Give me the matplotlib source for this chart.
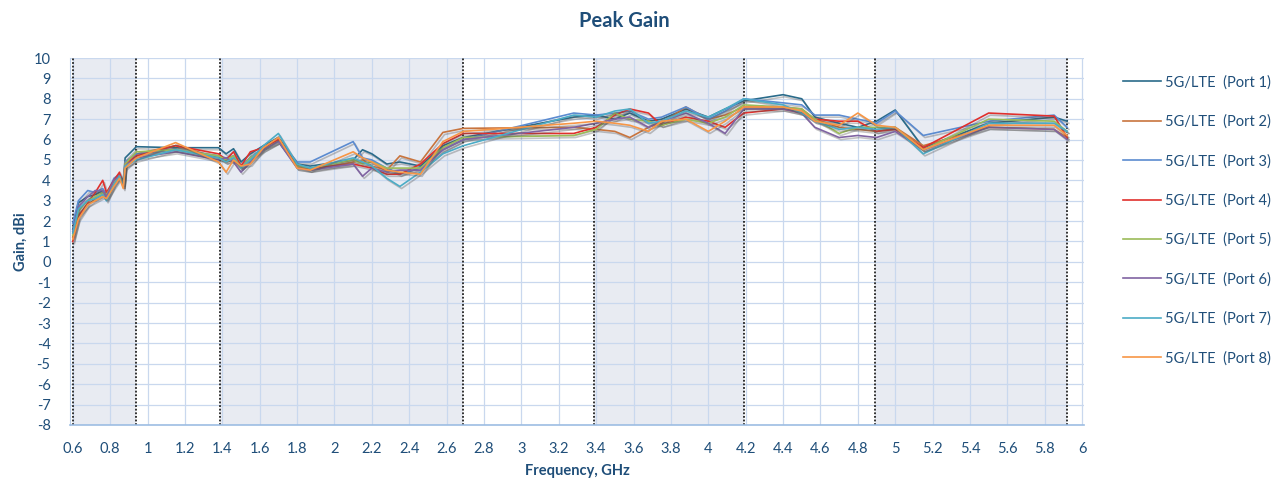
import matplotlib
matplotlib.use("Agg")
import matplotlib.pyplot as plt
import matplotlib.patheffects as pe
import numpy as np

plt.rcParams['font.family'] = ['Lato', 'DejaVu Sans']
plt.rcParams['axes.unicode_minus'] = False

# Frequency points (GHz), shared by all ports
freq = [0.6, 0.63, 0.68, 0.72, 0.76, 0.78, 0.82, 0.85, 0.87, 0.88, 0.94, 1.15,
        1.38, 1.42, 1.46, 1.5, 1.55, 1.62, 1.7, 1.8, 1.87, 2.1, 2.15, 2.2, 2.28,
        2.35, 2.46, 2.58, 2.69, 3.28, 3.4, 3.5, 3.58, 3.68, 3.75, 3.88, 4.0, 4.09,
        4.19, 4.4, 4.5, 4.57, 4.7, 4.8, 4.9, 5.0, 5.15, 5.5, 5.85, 5.92]

port1 = [1.6, 2.9, 3.2, 3.3, 3.5, 3.2, 4.0, 4.3, 3.9, 5.1, 5.65, 5.6,
         5.6, 5.3, 5.55, 4.9, 5.3, 5.7, 6.1, 4.8, 4.7, 5.0, 5.5, 5.3, 4.8,
         4.9, 4.7, 5.7, 6.1, 7.1, 7.2, 7.0, 7.3, 6.9, 7.0, 7.5, 7.1, 7.5,
         7.9, 8.2, 8.0, 7.1, 6.8, 6.6, 6.9, 7.45, 5.6, 6.8, 7.1, 6.9]
port2 = [1.2, 2.3, 2.8, 3.1, 3.3, 3.1, 3.8, 4.2, 3.8, 4.9, 5.3, 5.7,
         5.1, 4.9, 5.0, 4.6, 5.0, 5.6, 5.9, 4.7, 4.5, 4.9, 5.0, 4.7, 4.5,
         5.2, 4.9, 6.35, 6.55, 6.6, 6.5, 6.4, 6.1, 6.6, 6.8, 7.6, 7.0, 7.2,
         7.6, 7.6, 7.5, 7.0, 6.6, 6.5, 6.4, 6.6, 5.7, 6.6, 6.5, 6.1]
port3 = [1.9, 3.0, 3.5, 3.4, 3.6, 3.3, 4.1, 4.3, 3.8, 4.9, 5.3, 5.5,
         5.2, 5.1, 5.2, 4.7, 5.1, 5.6, 6.0, 4.9, 4.9, 5.9, 5.1, 5.0, 4.6,
         4.3, 4.6, 5.5, 6.0, 7.3, 7.2, 7.3, 7.4, 7.0, 7.1, 7.6, 7.0, 7.4,
         8.0, 7.8, 7.7, 7.2, 7.2, 7.0, 6.8, 7.4, 6.2, 6.9, 7.2, 6.6]
port4 = [1.0, 2.2, 2.9, 3.4, 4.0, 3.4, 4.0, 4.4, 3.7, 4.8, 5.2, 5.7,
         5.3, 5.0, 5.4, 4.7, 5.4, 5.6, 6.0, 4.7, 4.6, 4.8, 4.7, 4.6, 4.3,
         4.3, 4.8, 5.8, 6.3, 6.3, 6.6, 7.2, 7.5, 7.3, 6.7, 7.1, 6.9, 6.6,
         7.3, 7.5, 7.3, 7.0, 6.9, 6.9, 6.4, 6.5, 5.6, 7.3, 7.15, 6.1]
port5 = [1.3, 2.5, 3.0, 3.2, 3.4, 3.3, 3.9, 4.2, 3.8, 4.8, 5.4, 5.5,
         5.2, 5.0, 5.2, 4.6, 5.1, 5.5, 5.9, 4.7, 4.6, 5.0, 4.8, 4.9, 4.6,
         4.6, 4.6, 5.6, 6.1, 6.2, 6.5, 7.3, 7.0, 6.9, 6.7, 7.0, 6.8, 7.1,
         7.7, 7.6, 7.5, 7.0, 6.3, 6.6, 6.6, 6.6, 5.5, 7.0, 6.9, 6.4]
port6 = [1.5, 2.7, 3.2, 3.5, 3.5, 3.2, 4.0, 4.2, 3.7, 4.7, 5.1, 5.4,
         5.0, 5.1, 4.9, 4.4, 4.9, 5.5, 5.9, 4.6, 4.5, 4.8, 4.2, 4.6, 4.4,
         4.5, 4.5, 5.5, 6.0, 6.6, 6.8, 7.0, 7.1, 6.6, 6.9, 7.3, 6.8, 6.3,
         7.5, 7.5, 7.3, 6.6, 6.1, 6.2, 6.1, 6.4, 5.5, 6.6, 6.5, 6.0]
port7 = [1.4, 2.6, 3.0, 3.1, 3.3, 3.0, 3.8, 4.2, 3.7, 4.7, 5.0, 5.5,
         5.1, 4.9, 5.1, 4.6, 5.0, 5.7, 6.3, 4.8, 4.6, 5.1, 4.9, 4.7, 4.1,
         3.7, 4.4, 5.3, 5.7, 7.2, 7.1, 7.4, 7.5, 6.8, 6.9, 7.4, 7.1, 7.5,
         8.0, 7.7, 7.3, 6.9, 6.5, 6.6, 6.5, 6.6, 5.3, 6.8, 6.8, 6.4]
port8 = [1.1, 2.1, 2.8, 3.0, 3.2, 3.1, 3.7, 4.1, 3.6, 4.6, 5.1, 5.85,
         4.9, 4.4, 5.0, 4.7, 4.8, 5.6, 6.1, 4.6, 4.5, 5.4, 5.1, 4.9, 4.5,
         4.4, 4.3, 5.9, 6.4, 6.8, 6.9, 6.8, 6.7, 6.4, 6.9, 7.0, 6.4, 6.9,
         7.6, 7.6, 7.4, 6.9, 6.7, 7.3, 6.7, 6.6, 5.5, 6.7, 6.7, 6.2]

series = [port1, port2, port3, port4, port5, port6, port7, port8]
labels = [f"5G/LTE  (Port {i})" for i in range(1, 9)]
colors = ["#2a6b8a", "#c8743e", "#5b8bd0", "#e0302c",
          "#9bbb59", "#8064a2", "#4bacc6", "#f79646"]

# band edges (dotted lines) and shaded bands
band_edges = [0.6, 0.94, 1.39, 2.69, 3.39, 4.19, 4.89, 5.92]
shaded = [(0.6, 0.94), (1.39, 2.69), (3.39, 4.19), (4.89, 5.92)]

text_col = "#1f4e79"

fig = plt.figure(figsize=(12.84, 4.83), dpi=100)
ax = fig.add_axes([70 / 1284, 1 - 425 / 483, (1084 - 70) / 1284, (425 - 58) / 483])

for a, b in shaded:
    ax.axvspan(a, b, color="#e8ebf2", zorder=0, lw=0)

ax.set_xlim(0.585, 6.01)
ax.set_ylim(-8, 10)
ticks = np.round(np.arange(0.6, 6.01, 0.2), 1)
ax.set_xticks(ticks)
ax.set_xticklabels([f"{v:g}" for v in ticks])
ax.set_yticks(range(-8, 11))
ax.grid(True, color="#c9d8ee", lw=0.9, zorder=1)
ax.set_axisbelow(True)

for x in band_edges:
    ax.axvline(x, color="#222222", ls=(0, (1, 1)), lw=1.3, zorder=2)

shadow = [pe.SimpleLineShadow(offset=(1.2, -1.5), shadow_color="#555555", alpha=0.35),
          pe.Normal()]
for y, lab, c in zip(series, labels, colors):
    ax.plot(freq, y, color=c, lw=1.2, label=lab, zorder=3, path_effects=shadow)

for s in ["top", "right"]:
    ax.spines[s].set_visible(False)
ax.spines["left"].set_color("#bcd0ea")
ax.spines["bottom"].set_color("#9dbde3")
ax.spines["bottom"].set_linewidth(1.2)
ax.tick_params(length=0, colors=text_col, labelsize=10.5)
ax.tick_params(axis="x", pad=12)
ax.tick_params(axis="y", pad=14)

ax.set_xlabel("Frequency, GHz", color=text_col, fontsize=10.5, fontweight="bold", labelpad=6)
ax.set_ylabel("Gain, dBi", color=text_col, fontsize=10.5, fontweight="bold", labelpad=4)
fig.text(0.486, 0.957, "Peak Gain", color=text_col, fontsize=14.5, fontweight="bold",
         ha="center", va="center")

leg = fig.legend(loc="upper left", bbox_to_anchor=(1110 / 1284, 1 - 62 / 483),
                 frameon=False, fontsize=10.5, labelspacing=1.72, handlelength=2.6,
                 handletextpad=0.3)
for t in leg.get_texts():
    t.set_color(text_col)
for h in leg.legend_handles:
    h.set_path_effects([])

fig.savefig("out.png", dpi=100)
